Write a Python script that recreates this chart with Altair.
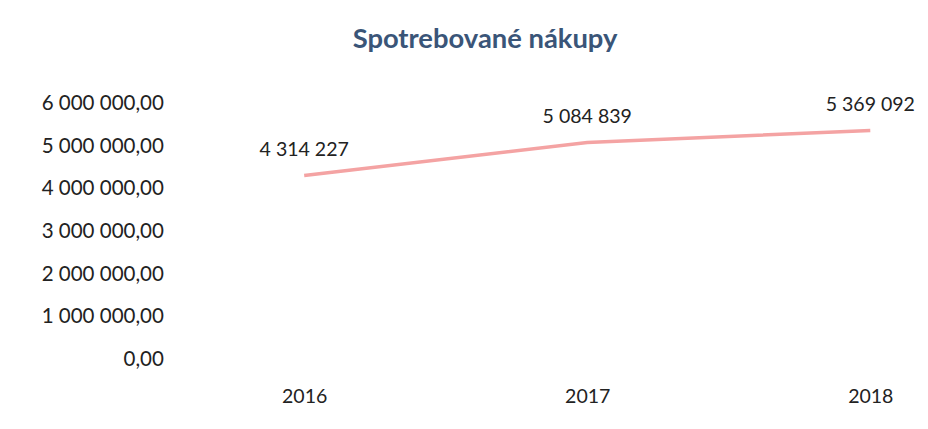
import altair as alt
import pandas as pd

years = [2016, 2017, 2018]
values = [4314227, 5084839, 5369092]

df = pd.DataFrame({"year": years, "value": values})

FONT = "Lato"

x = alt.X("year:Q",
          scale=alt.Scale(domain=[2015.551, 2018.072], nice=False, zero=False),
          axis=alt.Axis(values=years, format="d", title=None, grid=False, domain=False,
                        ticks=False, labelPadding=28, labelFontSize=20, labelColor="#222222",
                        labelFont=FONT))
y = alt.Y("value:Q",
          scale=alt.Scale(domain=[0, 6000000], nice=False),
          axis=alt.Axis(values=[0, 1000000, 2000000, 3000000, 4000000, 5000000, 6000000],
                        labelExpr="replace(replace(format(datum.value, ',.2f'), regexp(',', 'g'), ' '), '.', ',')",
                        title=None, grid=False, domain=False, ticks=False, labelPadding=14,
                        labelFontSize=21, labelColor="#222222", labelFont=FONT))

base = alt.Chart(df).encode(x=x, y=y)

line = base.mark_line(color="#f4a3a3", strokeWidth=3.5)
labels = base.transform_calculate(
    lbl="replace(format(datum.value, ','), regexp(',', 'g'), ' ')"
).mark_text(dy=-26, fontSize=20, font=FONT, color="#222222").encode(text="lbl:N")

chart = (line + labels).properties(
    width=730, height=262,
    title=alt.TitleParams("Spotrebované nákupy", fontSize=28, font=FONT, fontWeight="bold",
                          color="#3a5578", offset=40, dx=-50),
    padding={"left": 33, "top": 14, "right": 5, "bottom": 5},
).configure_view(stroke=None)

chart.save("out.html", embed_options={"renderer": "svg", "actions": False})
